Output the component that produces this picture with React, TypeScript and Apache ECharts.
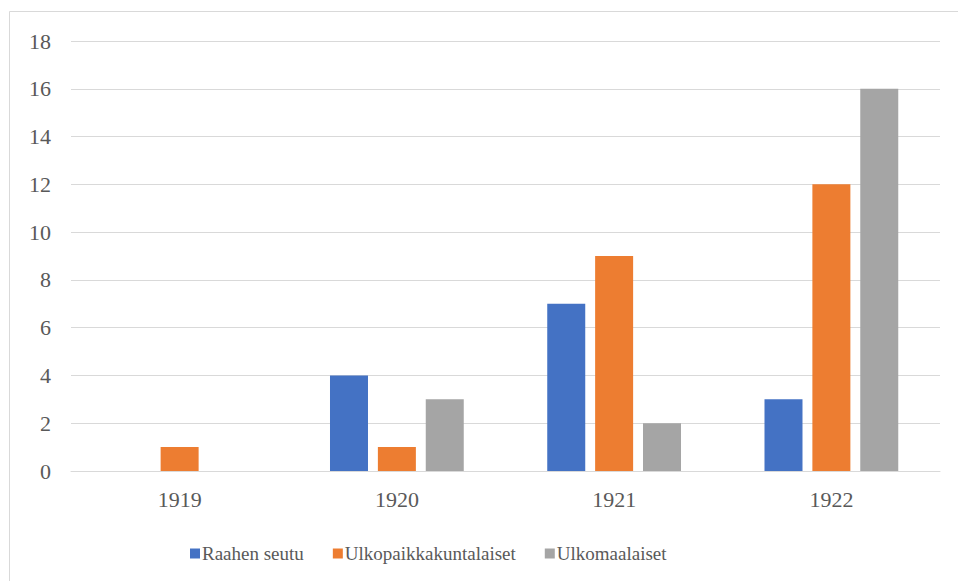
import React, { useEffect, useRef } from "react";
import * as echarts from "echarts";

const categories = ["1919", "1920", "1921", "1922"];
const seriesNames = ["Raahen seutu", "Ulkopaikkakuntalaiset", "Ulkomaalaiset"];
const raahenSeutu = [0, 4, 7, 3];
const ulkopaikkakuntalaiset = [1, 1, 9, 12];
const ulkomaalaiset = [0, 3, 2, 16];
const colors = ["#4472C4", "#ED7D31", "#A5A5A5"];

export default function App() {
  const ref = useRef<HTMLDivElement>(null);
  useEffect(() => {
    document.body.style.margin = "0";
    const chart = echarts.init(ref.current!, null, { renderer: "svg" });
    const font = "Liberation Serif";
    const values = [raahenSeutu, ulkopaikkakuntalaiset, ulkomaalaiset];
    chart.setOption({
      animation: false,
      backgroundColor: "#FFFFFF",
      textStyle: { fontFamily: font },
      grid: { left: 71, right: 18, top: 41, bottom: 110, containLabel: false },
      legend: {
        left: 185,
        top: 539,
        itemWidth: 10,
        itemHeight: 10,
        itemGap: 29,
        icon: "rect",
        formatter: "{t|{name}}",
        textStyle: {
          fontFamily: font,
          fontSize: 19,
          color: "#595959",
          rich: { t: { fontFamily: font, fontSize: 19, color: "#595959", padding: [0, 0, 0, -3] } },
        },
        data: seriesNames,
      },
      xAxis: {
        type: "category",
        data: categories,
        axisLine: { lineStyle: { color: "#D9D9D9", width: 1 } },
        axisTick: { show: false },
        axisLabel: { fontFamily: font, fontSize: 22, color: "#595959", margin: 17 },
      },
      yAxis: {
        type: "value",
        min: 0,
        max: 18,
        interval: 2,
        axisLine: { show: false },
        axisTick: { show: false },
        splitLine: { lineStyle: { color: "#D9D9D9", width: 1 } },
        axisLabel: { fontFamily: font, fontSize: 22, color: "#595959", margin: 20 },
      },
      graphic: [
        { type: "line", shape: { x1: 9.5, y1: 11.5, x2: 958, y2: 11.5 }, style: { stroke: "#D9D9D9", lineWidth: 1 } },
        { type: "line", shape: { x1: 9.5, y1: 11.5, x2: 9.5, y2: 581 }, style: { stroke: "#D9D9D9", lineWidth: 1 } },
      ],
      series: seriesNames.map((name, i) => ({
        name,
        type: "bar",
        data: values[i],
        barWidth: 38,
        barGap: "26%",
        barCategoryGap: "38%",
        itemStyle: { color: colors[i] },
      })),
    });
    return () => chart.dispose();
  }, []);
  return <div ref={ref} style={{ width: 958, height: 581 }} />;
}
